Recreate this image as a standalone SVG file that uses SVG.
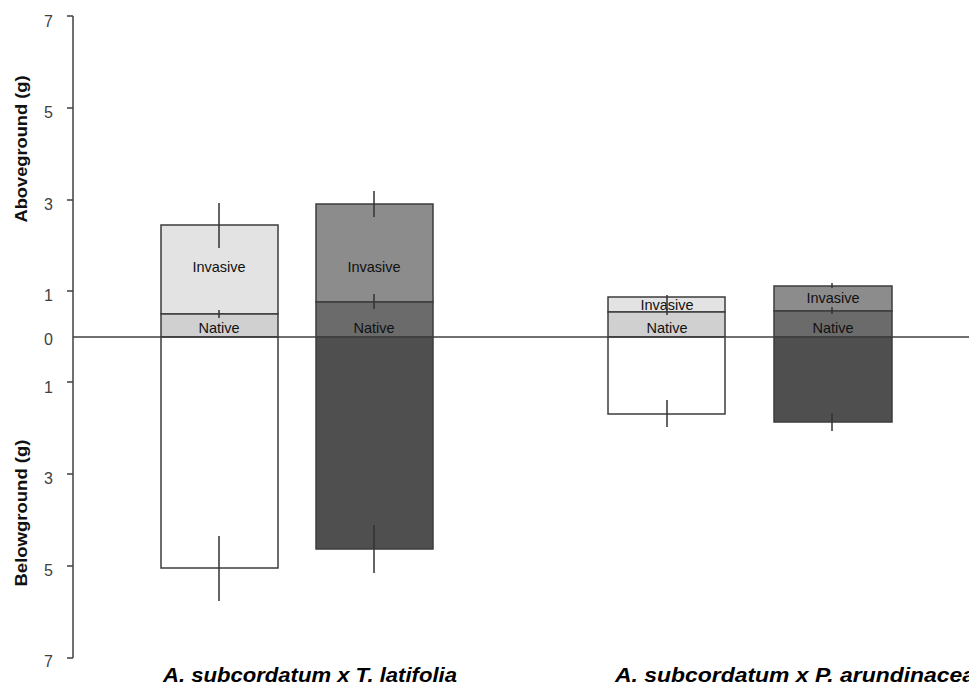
<svg xmlns="http://www.w3.org/2000/svg" width="969" height="690" viewBox="0 0 969 690">
<style>
.ax{stroke:#404040;stroke-width:1.5;fill:none}
.tl{font-family:"Liberation Sans",Arial,sans-serif;font-size:16px;fill:#404040;text-anchor:end}
.yl{font-family:"Liberation Sans",Arial,sans-serif;font-size:17px;font-weight:bold;fill:#111;text-anchor:middle}
.bar{stroke:#3c3c3c;stroke-width:1.5}
.err{stroke:#333;stroke-width:1.5}
.bl{font-family:"Liberation Sans",Arial,sans-serif;font-size:14.5px;fill:#111;text-anchor:middle}
.xl{font-family:"Liberation Sans",Arial,sans-serif;font-size:20.5px;font-weight:bold;font-style:italic;fill:#000}
</style>
<rect width="969" height="690" fill="#fff"/>
<g id="axis">
<line class="ax" x1="73" y1="16" x2="73" y2="658"/>
<path class="ax" d="M67 16H73M67 108H73M67 200H73M67 291H73M67 382H73M67 474H73M67 566H73M67 658H73"/>
<text class="tl" x="53" y="27">7</text>
<text class="tl" x="53" y="118">5</text>
<text class="tl" x="53" y="210">3</text>
<text class="tl" x="53" y="301">1</text>
<text class="tl" x="53" y="345">0</text>
<text class="tl" x="53" y="393">1</text>
<text class="tl" x="53" y="484">3</text>
<text class="tl" x="53" y="576">5</text>
<text class="tl" x="53" y="667">7</text>
<text class="yl" transform="translate(27 149) rotate(-90)" textLength="147" lengthAdjust="spacingAndGlyphs">Aboveground (g)</text>
<text class="yl" transform="translate(27 513) rotate(-90)" textLength="147" lengthAdjust="spacingAndGlyphs">Belowground (g)</text>
</g>
<g id="bar1">
<rect class="bar" x="161" y="225" width="117" height="89" fill="#e3e3e3"/>
<rect class="bar" x="161" y="314" width="117" height="23" fill="#d0d0d0"/>
<rect class="bar" x="161" y="337" width="117" height="231" fill="#fff"/>
<text class="bl" x="219" y="272">Invasive</text>
<text class="bl" x="219" y="333">Native</text>
</g>
<g id="bar2">
<rect class="bar" x="316" y="204" width="117" height="98" fill="#8c8c8c"/>
<rect class="bar" x="316" y="302" width="117" height="35" fill="#6b6b6b"/>
<rect class="bar" x="316" y="337" width="117" height="212" fill="#4f4f4f"/>
<text class="bl" x="374" y="272">Invasive</text>
<text class="bl" x="374" y="333">Native</text>
</g>
<g id="bar3">
<rect class="bar" x="608" y="297" width="117" height="15" fill="#e3e3e3"/>
<rect class="bar" x="608" y="312" width="117" height="25" fill="#d0d0d0"/>
<rect class="bar" x="608" y="337" width="117" height="77" fill="#fff"/>
<text class="bl" x="667" y="310">Invasive</text>
<text class="bl" x="667" y="333">Native</text>
</g>
<g id="bar4">
<rect class="bar" x="774" y="286" width="118" height="25" fill="#8c8c8c"/>
<rect class="bar" x="774" y="311" width="118" height="26" fill="#6b6b6b"/>
<rect class="bar" x="774" y="337" width="118" height="85" fill="#4f4f4f"/>
<text class="bl" x="833" y="303">Invasive</text>
<text class="bl" x="833" y="333">Native</text>
</g>
<g id="errors">
<path class="err" d="M219 203V248M219 310V318M219 536V601"/>
<path class="err" d="M374 191V217M374 294V309M374 525V573"/>
<path class="err" d="M667 295V315M667 400V427"/>
<path class="err" d="M832 283V288M832 307V314M832 413V431"/>
</g>
<line id="zero" class="ax" x1="73" y1="337" x2="969" y2="337"/>
<g id="xlabels">
<text class="xl" x="163" y="682" textLength="294" lengthAdjust="spacingAndGlyphs">A. subcordatum x T. latifolia</text>
<text class="xl" x="615" y="682" textLength="360" lengthAdjust="spacingAndGlyphs">A. subcordatum x P. arundinacea</text>
</g>
</svg>
